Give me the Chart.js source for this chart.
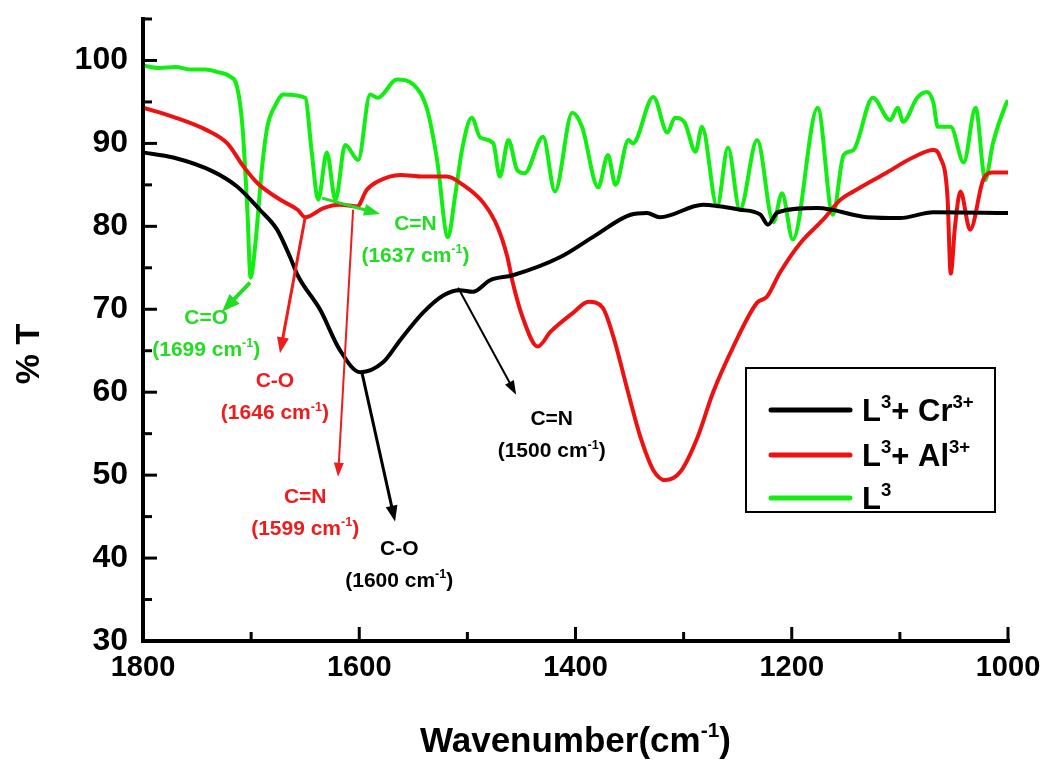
<!DOCTYPE html>
<html>
<head>
<meta charset="utf-8">
<script src="https://cdn.jsdelivr.net/npm/chart.js@4.4.1/dist/chart.umd.min.js"></script>
<style>
  html, body { margin: 0; padding: 0; background: #fff; }
  #wrap { width: 1051px; height: 761px; }
</style>
</head>
<body>
<div id="wrap"><canvas id="irChart"></canvas></div>
<script>
// L3 + Cr3+ spectrum
const crWn = [1800, 1772, 1735, 1713, 1692, 1676, 1664, 1657, 1636, 1618,
              1599, 1578, 1562, 1541, 1522, 1507, 1495, 1479, 1458, 1414,
              1384, 1349, 1334, 1322, 1282, 1248, 1229, 1222, 1213, 1176,
              1130, 1100, 1069, 1000];
const crT  = [88.9, 88.3, 86.6, 84.8, 82.0, 79.6, 76.3, 74.1, 69.9, 65.1,
              62.4, 63.6, 66.3, 69.6, 71.7, 72.3, 72.1, 73.5, 74.1, 76.3,
              78.7, 81.4, 81.6, 81.1, 82.6, 82.0, 81.4, 80.2, 81.7, 82.2,
              81.1, 81.0, 81.7, 81.6];

// L3 + Al3+ spectrum
const alWn = [1800, 1772, 1741, 1722, 1707, 1694, 1673, 1657, 1650, 1633,
              1618, 1602, 1593, 1583, 1562, 1541, 1519, 1504, 1485, 1472,
              1463, 1458, 1448, 1435, 1423, 1402, 1388, 1375, 1365, 1352,
              1340, 1328, 1317, 1303, 1287, 1273, 1254, 1232, 1223, 1211,
              1192, 1171, 1155, 1143, 1112, 1088, 1069, 1063, 1056, 1053,
              1049, 1044, 1035, 1023, 1014, 1000];
const alT  = [94.3, 93.2, 91.6, 90.0, 87.2, 85.2, 83.2, 82.0, 81.1, 82.2,
              82.6, 82.4, 84.4, 85.4, 86.2, 86.0, 86.0, 85.0, 82.8, 79.9,
              76.3, 73.2, 68.7, 65.5, 67.3, 69.6, 70.9, 70.2, 66.7, 60.3,
              54.6, 50.6, 49.4, 50.4, 54.6, 59.9, 65.5, 70.8, 71.5, 74.4,
              78.0, 80.8, 83.2, 84.2, 86.5, 88.3, 89.2, 88.4, 83.6, 74.3,
              80.0, 84.2, 79.6, 85.6, 86.5, 86.5];

// L3 (free ligand) spectrum
const l3Wn = [1800, 1785, 1770, 1755, 1742, 1731, 1720, 1713, 1708, 1703.5,
              1700.5, 1696, 1690, 1685, 1678, 1670, 1650, 1644, 1638, 1630,
              1622, 1613, 1601, 1590, 1583, 1565, 1550, 1537, 1528, 1518,
              1511, 1505, 1496, 1488, 1476, 1470, 1462, 1454, 1447, 1430,
              1419, 1403, 1394, 1379, 1370, 1363, 1351, 1347, 1328, 1315,
              1308, 1299, 1289, 1283, 1269, 1259, 1248, 1232, 1217, 1209,
              1199, 1176, 1162, 1152, 1143, 1125, 1109, 1102, 1097, 1084,
              1075, 1069, 1065, 1053, 1041, 1030, 1021, 1014, 1002, 1000];
const l3T  = [99.4, 99.1, 99.2, 98.9, 98.9, 98.6, 98.1, 96.8, 92.0, 82.0,
              73.8, 78.0, 87.0, 92.0, 94.5, 95.9, 95.5, 89.0, 83.2, 88.9,
              83.2, 89.8, 88.0, 95.9, 95.5, 97.7, 97.1, 94.0, 88.0, 78.7,
              84.0, 89.2, 93.1, 90.7, 90.0, 86.0, 90.4, 86.8, 86.4, 90.8,
              84.2, 93.7, 92.0, 84.7, 88.6, 85.0, 90.4, 90.0, 95.6, 91.3,
              93.1, 92.5, 89.0, 92.0, 82.4, 89.5, 82.0, 90.4, 80.5, 84.0,
              78.4, 94.3, 81.4, 88.6, 89.2, 95.5, 92.8, 94.3, 92.6, 95.5,
              96.2, 94.9, 92.0, 92.0, 87.7, 94.3, 85.6, 90.0, 94.7, 95.2];

const seriesNames = ['L3+ Cr3+', 'L3+ Al3+', 'L3'];
const legendText = [
  [['L', 0], ['3', 1], ['+ Cr', 0], ['3+', 1]],
  [['L', 0], ['3', 1], ['+ Al', 0], ['3+', 1]],
  [['L', 0], ['3', 1]]
];

// axis ticks
const xTickVals = [1800, 1700, 1600, 1500, 1400, 1300, 1200, 1100, 1000];
const yTickVals = [30, 35, 40, 45, 50, 55, 60, 65, 70, 75, 80, 85, 90, 95, 100, 105];

// band assignments: which series, group, wavenumber text, arrow start/end and label spot
const bandSeries = [2, 1, 1, 0, 0, 2];
const bandGroup  = ['C=O', 'C-O', 'C=N', 'C-O', 'C=N', 'C=N'];
const bandWnText = ['1699', '1646', '1599', '1600', '1500', '1637'];
const arrowFromWn = [1701, 1650, 1605.7, 1597.4, 1508.6, 1634.4];
const arrowFromT  = [73.2, 81.1, 82.0, 62.3, 72.6, 83.4];
const arrowToWn   = [1726.9, 1673.3, 1619.6, 1566.9, 1454.9, 1580.8];
const arrowToT    = [69.7, 64.7, 49.8, 44.4, 59.7, 81.5];
const labelWn     = [1741.5, 1678, 1650, 1563, 1422, 1548];
const labelT      = [69.1, 61.5, 47.6, 41.3, 56.9, 80.5];

const colors = ['#000000', '#ee1111', '#11ee11'];
const textColors = ['#000000', '#ee1c1c', '#22dd22'];
const fontFam = '"Liberation Sans", Arial, sans-serif';

function toPoints(wn, t) {
  return wn.map((w, i) => ({ x: w, y: t[i] }));
}

function drawRich(ctx, segs, x, baseline, size) {
  let cx = x;
  ctx.textAlign = 'left';
  ctx.textBaseline = 'alphabetic';
  segs.forEach(s => {
    const sz = s[1] ? size * 0.6 : size;
    ctx.font = 'bold ' + sz + 'px ' + fontFam;
    ctx.fillText(s[0], cx, s[1] ? baseline - size * 0.42 : baseline);
    cx += ctx.measureText(s[0]).width;
  });
}

function richWidth(ctx, segs, size) {
  let total = 0;
  segs.forEach(s => {
    ctx.font = 'bold ' + (s[1] ? size * 0.6 : size) + 'px ' + fontFam;
    total += ctx.measureText(s[0]).width;
  });
  return total;
}

function drawArrow(ctx, x0, y0, x1, y1, w, color) {
  const ang = Math.atan2(y1 - y0, x1 - x0);
  const hl = 10 + w * 2, hw = 3 + w;
  ctx.strokeStyle = color;
  ctx.fillStyle = color;
  ctx.lineWidth = w;
  ctx.beginPath();
  ctx.moveTo(x0, y0);
  ctx.lineTo(x1 - Math.cos(ang) * hl * 0.7, y1 - Math.sin(ang) * hl * 0.7);
  ctx.stroke();
  ctx.beginPath();
  ctx.moveTo(x1, y1);
  ctx.lineTo(x1 - hl * Math.cos(ang) + hw * Math.sin(ang), y1 - hl * Math.sin(ang) - hw * Math.cos(ang));
  ctx.lineTo(x1 - hl * Math.cos(ang) - hw * Math.sin(ang), y1 - hl * Math.sin(ang) + hw * Math.cos(ang));
  ctx.closePath();
  ctx.fill();
}

const arrowWidths = [4, 3, 2, 3, 2, 3];

const decorPlugin = {
  id: 'decor',
  afterDatasetsDraw(chart) {
    const { ctx, chartArea: a, scales: { x, y } } = chart;
    ctx.save();

    // axis lines (left + bottom only)
    ctx.strokeStyle = '#000';
    ctx.lineWidth = 4;
    ctx.lineCap = 'square';
    ctx.beginPath();
    ctx.moveTo(a.left, y.getPixelForValue(105));
    ctx.lineTo(a.left, a.bottom);
    ctx.lineTo(x.getPixelForValue(1000), a.bottom);
    ctx.stroke();

    // inward ticks
    ctx.lineWidth = 3;
    ctx.lineCap = 'butt';
    yTickVals.forEach(v => {
      const py = y.getPixelForValue(v);
      const len = v % 10 === 0 ? 14 : 9;
      ctx.beginPath();
      ctx.moveTo(a.left, py);
      ctx.lineTo(a.left + len, py);
      ctx.stroke();
    });
    xTickVals.forEach(v => {
      const px = x.getPixelForValue(v);
      const len = v % 200 === 0 ? 14 : 9;
      ctx.beginPath();
      ctx.moveTo(px, a.bottom);
      ctx.lineTo(px, a.bottom - len);
      ctx.stroke();
    });

    // band arrows and labels
    bandGroup.forEach((g, i) => {
      const c = textColors[bandSeries[i]];
      drawArrow(ctx,
        x.getPixelForValue(arrowFromWn[i]), y.getPixelForValue(arrowFromT[i]),
        x.getPixelForValue(arrowToWn[i]), y.getPixelForValue(arrowToT[i]),
        arrowWidths[i], c);
      const lx = x.getPixelForValue(labelWn[i]);
      const ly = y.getPixelForValue(labelT[i]);
      const size = 21;
      ctx.fillStyle = c;
      const seg1 = [[g, 0]];
      const seg2 = [['(' + bandWnText[i] + ' cm', 0], ['-1', 1], [')', 0]];
      drawRich(ctx, seg1, lx - richWidth(ctx, seg1, size) / 2, ly + size * 0.36, size);
      drawRich(ctx, seg2, lx - richWidth(ctx, seg2, size) / 2, ly + 32 + size * 0.36, size);
    });

    // legend box
    const bx = a.right - 262, by = a.top + 349, bw = 249, bh = 144;
    ctx.strokeStyle = '#000';
    ctx.lineWidth = 2;
    ctx.strokeRect(bx, by, bw, bh);
    const rowY = [by + 42, by + 87, by + 130];
    chart.data.datasets.forEach((ds, i) => {
      ctx.strokeStyle = ds.borderColor;
      ctx.lineWidth = 5;
      ctx.lineCap = 'round';
      ctx.beginPath();
      ctx.moveTo(bx + 25, rowY[i]);
      ctx.lineTo(bx + 104, rowY[i]);
      ctx.stroke();
      ctx.fillStyle = '#000';
      drawRich(ctx, legendText[i], bx + 116, rowY[i] + 11, 31);
    });

    // axis titles
    ctx.fillStyle = '#000';
    ctx.save();
    ctx.translate(30, 354);
    ctx.rotate(-Math.PI / 2);
    ctx.font = 'bold 34px ' + fontFam;
    ctx.textAlign = 'center';
    ctx.textBaseline = 'middle';
    ctx.fillText('% T', 0, 0);
    ctx.restore();

    const xt = [['Wavenumber(cm', 0], ['-1', 1], [')', 0]];
    const cxm = (a.left + a.right) / 2;
    drawRich(ctx, xt, cxm - richWidth(ctx, xt, 35) / 2, 752, 35);

    ctx.restore();
  }
};

const ctx = document.getElementById('irChart').getContext('2d');
const irChart = new Chart(ctx, {
  type: 'line',
  data: {
    datasets: [
      { label: seriesNames[0], data: toPoints(crWn, crT), borderColor: colors[0] },
      { label: seriesNames[1], data: toPoints(alWn, alT), borderColor: colors[1] },
      { label: seriesNames[2], data: toPoints(l3Wn, l3T), borderColor: colors[2] }
    ]
  },
  options: {
    responsive: true,
    maintainAspectRatio: false,
    animation: false,
    parsing: false,
    layout: { padding: { top: 19, right: 43, left: 0, bottom: 0 } },
    elements: {
      line: { borderWidth: 4, cubicInterpolationMode: 'monotone', fill: false },
      point: { radius: 0 }
    },
    plugins: {
      legend: { display: false },
      tooltip: { enabled: false }
    },
    scales: {
      x: {
        type: 'linear',
        reverse: true,
        min: 1000,
        max: 1800,
        grid: { display: false, drawTicks: false },
        border: { display: false },
        afterBuildTicks: scale => { scale.ticks = xTickVals.map(v => ({ value: v })); },
        afterFit: scale => {
          scale.height = 120;
          scale.paddingLeft = 0;
          scale.paddingRight = 0;
        },
        ticks: {
          padding: 10,
          color: '#000',
          maxRotation: 0,
          font: { family: fontFam, size: 29, weight: 'bold' },
          callback: v => (v % 200 === 0 ? String(v) : '')
        }
      },
      y: {
        type: 'linear',
        min: 30,
        max: 105,
        grid: { display: false, drawTicks: false },
        border: { display: false },
        afterBuildTicks: scale => { scale.ticks = yTickVals.map(v => ({ value: v })); },
        afterFit: scale => {
          scale.width = 143;
          scale.paddingTop = 0;
          scale.paddingBottom = 0;
        },
        ticks: {
          padding: 15,
          color: '#000',
          font: { family: fontFam, size: 32, weight: 'bold' },
          callback: v => (v % 10 === 0 ? String(v) : '')
        }
      }
    }
  },
  plugins: [decorPlugin]
});
</script>
</body>
</html>
